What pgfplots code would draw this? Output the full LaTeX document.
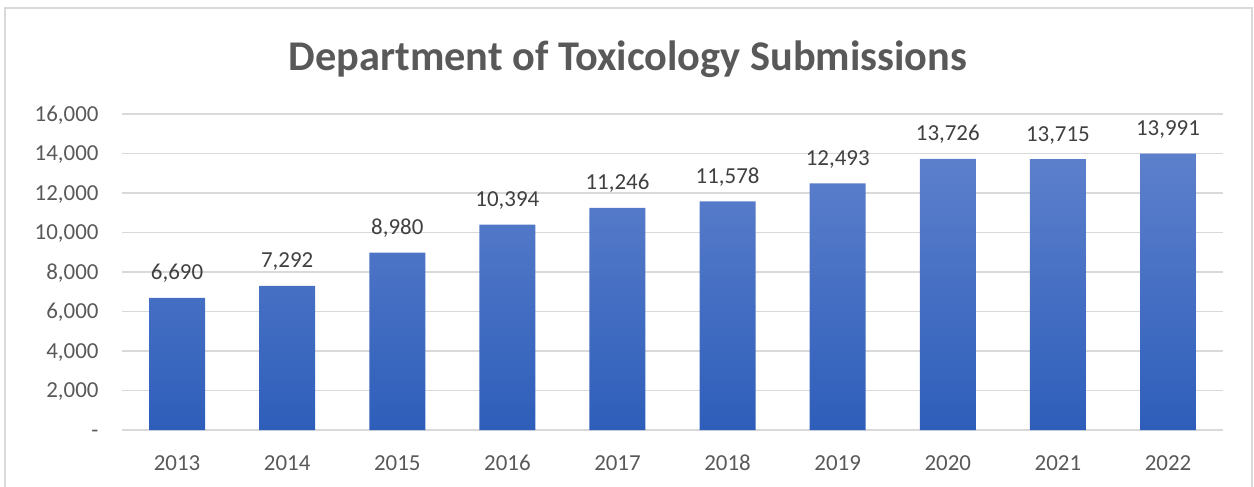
\documentclass[border=0pt]{standalone}
\usepackage{pgfplots}
\pgfplotsset{compat=1.18}
\usepackage{fontspec}
\setmainfont{Carlito}
\definecolor{titlegrey}{HTML}{595959}
\definecolor{tickgrey}{HTML}{595959}
\definecolor{labgrey}{HTML}{404040}
\definecolor{gridgrey}{HTML}{D9D9D9}
\definecolor{bordergrey}{HTML}{D9D9D9}
\definecolor{bartop}{HTML}{5D80CC}
\definecolor{barbot}{HTML}{2E5EBA}
\begin{document}
\begin{tikzpicture}
\path[use as bounding box] (0,0) rectangle (1254bp,487bp);
\draw[bordergrey, line width=1.5bp] (5bp,-20bp) rectangle (1252bp,479bp);
\begin{axis}[
  at={(122bp,57bp)}, anchor=south west,
  scale only axis, width=1101bp, height=316bp,
  ymin=0, ymax=16000,
  xmin=-0.5, xmax=9.5,
  scaled y ticks=false,
  ytick={0,2000,4000,6000,8000,10000,12000,14000,16000},
  yticklabels={{-},{2,000},{4,000},{6,000},{8,000},{10,000},{12,000},{14,000},{16,000}},
  xtick={0,1,2,3,4,5,6,7,8,9},
  xticklabels={2013,2014,2015,2016,2017,2018,2019,2020,2021,2022},
  major tick length=0,
  ymajorgrids, grid style={gridgrey, line width=1.5bp},
  axis line style={draw=none},
  axis x line*=bottom, axis y line*=left,
  ticklabel style={font=\fontsize{23}{27}\selectfont, text=tickgrey},
  yticklabel style={anchor=base east, xshift=-20bp, yshift=-7.3bp},
  xticklabel style={anchor=base, yshift=-40bp},
  title={Department of Toxicology Submissions},
  title style={at={(0.4596,1.1424)}, anchor=base, yshift=-7bp, font=\bfseries\fontsize{42.5}{46}\selectfont, text=titlegrey},
  /pgf/number format/.cd, 1000 sep={,}, assume math mode=true, /pgfplots/.cd,
  ybar, bar width=56bp,
  nodes near coords,
  every node near coord/.append style={anchor=base, yshift=18bp, font=\fontsize{23}{27}\selectfont, text=labgrey},
  clip=false,
]
\draw[gridgrey, line width=1.8bp] (axis cs:-0.5,0) -- (axis cs:9.5,0);
\addplot[draw=none, top color=bartop, bottom color=barbot, shading=axis] coordinates {
(0,6690) (1,7292) (2,8980) (3,10394) (4,11246) (5,11578) (6,12493) (7,13726) (8,13715) (9,13991)
};
\end{axis}
\end{tikzpicture}
\end{document}
